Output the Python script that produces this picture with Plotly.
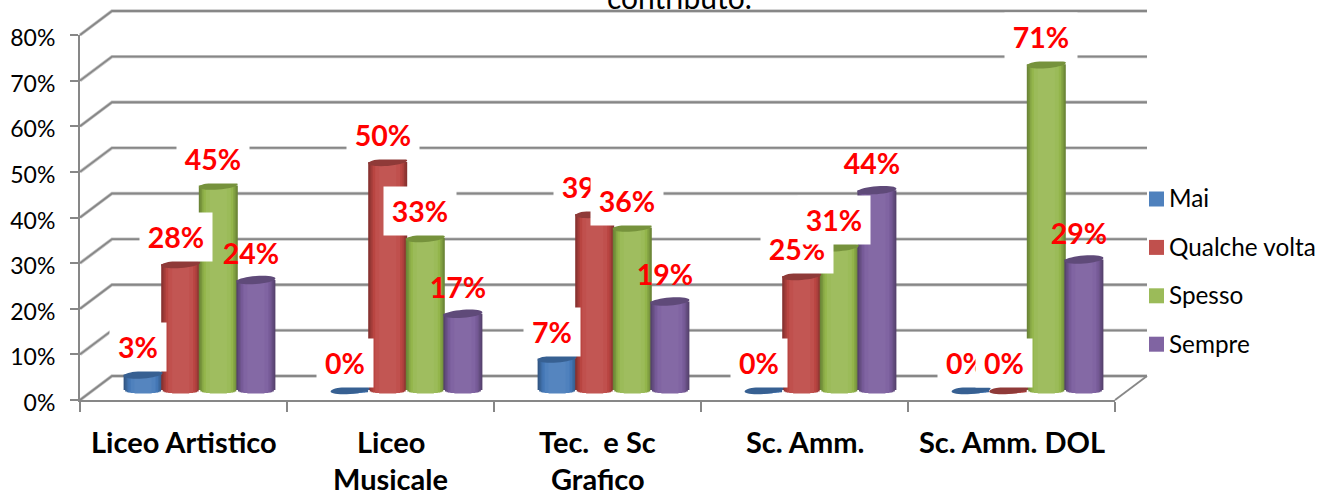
import colorsys

import numpy as np
import plotly.graph_objects as go

CATEGORIES = [['Liceo Artistico'], ['Liceo', 'Musicale'], ['Tec.\u00a0\u00a0e Sc', 'Grafico'], ['Sc. Amm.'], ['Sc. Amm. DOL']]
SERIES = ['Mai', 'Qualche volta', 'Spesso', 'Sempre']
MAI = [3.4, 0, 6.9, 0, 0]
QUALCHE_VOLTA = [27.6, 50, 38.6, 25, 0]
SPESSO = [44.8, 33.3, 35.6, 31.3, 71.4]
SEMPRE = [24.1, 16.7, 19.4, 43.8, 28.6]
VALUES = [MAI, QUALCHE_VOLTA, SPESSO, SEMPRE]
Y_TICKS = [0, 10, 20, 30, 40, 50, 60, 70, 80]

COLORS = ['#4F81BD', '#C0504D', '#9BBB59', '#8064A2']
CAP_COLORS = ['#376092', '#8F3A38', '#76923C', '#5F4A79']
GRID_DARK = '#878787'
GRID_LIGHT = '#c6c6c6'
FONT = 'Lato'

W, H = 1320, 490
PX_PER_UNIT = 4.5625  # pixels per percentage point
FRONT_X0, FRONT_X1 = 80, 1115
FRONT_ZERO = 400
DEPTH_X, DEPTH_Y = 32, 24
BAR_ZERO = 390
BAR_SHIFT = 16
BAR_STEP = 37.6 / 207
BAR_WIDTH = 39 / 207
CAP_H = 4 / PX_PER_UNIT
CAP_TILT = 1.5 / PX_PER_UNIT
# (width fraction, brightness) from the cylinder edge to its centre
SHADES = [(1.0, 0.68), (0.92, 0.76), (0.84, 0.85), (0.76, 0.93), (0.64, 1.0), (0.44, 1.03)]


def px(x):
    return x / W


def py(y):
    return 1 - y / H


def shade(color, k):
    r, g, b = [int(color[i:i + 2], 16) / 255 for i in (1, 3, 5)]
    h, l, s = colorsys.rgb_to_hls(r, g, b)
    r, g, b = colorsys.hls_to_rgb(h, min(l * k, 1), s)
    return f'rgb({r * 255:.0f},{g * 255:.0f},{b * 255:.0f})'


fig = go.Figure()
shapes = []
annotations = []

# cylinders: nested bars for the shading, the narrow ones reach lower to round the foot
for s, name in enumerate(SERIES):
    centers = np.arange(len(CATEGORIES)) + (s - 1.5) * BAR_STEP
    values = np.array(VALUES[s], dtype=float)
    for frac, k in SHADES:
        base = -CAP_H * np.sqrt(1 - frac ** 2) * np.ones(len(values))
        fig.add_trace(go.Bar(
            x=centers,
            y=values - base,
            base=base,
            width=BAR_WIDTH * frac,
            marker=dict(color=shade(COLORS[s], k), line_width=0),
            name=name,
            showlegend=False,
            hoverinfo='skip',
            xaxis='x2',
            yaxis='y2'
        ))
    # top of each cylinder
    t = np.linspace(0, 2 * np.pi, 37)
    for c, v in zip(centers, values):
        xs = c + BAR_WIDTH / 2 * np.cos(t)
        ys = v + CAP_H * np.sin(t) + CAP_TILT * np.cos(t)
        path = 'M' + 'L'.join(f'{a:.4f},{b:.3f}' for a, b in zip(xs, ys)) + 'Z'
        shapes.append(dict(type='path', path=path, xref='x2', yref='y2',
                           fillcolor=CAP_COLORS[s], line_width=0))

# walls: diagonal plus back line for each level
for tick in Y_TICKS:
    yf = FRONT_ZERO - tick * PX_PER_UNIT
    yb = yf - DEPTH_Y
    xb0, xb1 = FRONT_X0 + DEPTH_X, FRONT_X1 + DEPTH_X
    path = f'M{px(FRONT_X0)},{py(yf)}L{px(xb0)},{py(yb)}L{px(xb1)},{py(yb)}'
    shapes.append(dict(type='path', path=path, xref='paper', yref='paper', layer='below',
                       line=dict(color=GRID_LIGHT, width=3.4)))
    shapes.append(dict(type='path', path=path, xref='paper', yref='paper', layer='below',
                       line=dict(color=GRID_DARK, width=1.8)))
shapes.append(dict(type='line', xref='paper', yref='paper', layer='below',
                   x0=px(FRONT_X1), y0=py(FRONT_ZERO),
                   x1=px(FRONT_X1 + DEPTH_X), y1=py(FRONT_ZERO - DEPTH_Y),
                   line=dict(color=GRID_DARK, width=1.8)))

# data labels, white box on all series but the last
for s in range(len(SERIES)):
    for i, v in enumerate(VALUES[s]):
        text = f'{v:.0f}%'
        annotations.append(dict(
            x=i + (s - 1.5) * BAR_STEP, y=v, xref='x2', yref='y2',
            text=f'<b>{text}</b>', showarrow=False,
            xshift=-5, yshift=27,
            width=56 if len(text) == 2 else 72, height=48, borderpad=0,
            align='center', valign='middle',
            bgcolor='white' if SERIES[s] != 'Sempre' else None,
            font=dict(family=FONT, size=28.5, color='#ff0000')
        ))

# category labels, the line spacing is wider than a tick label would give
for i, lines in enumerate(CATEGORIES):
    for n, line in enumerate(lines):
        annotations.append(dict(
            x=i, y=py(441 + n * 37), xref='x', yref='paper', yanchor='middle',
            text=f'<b>{line}</b>', showarrow=False,
            font=dict(family=FONT, size=29, color='black')
        ))

# legend
for s, name in enumerate(SERIES):
    yc = 199 + s * 48.4
    shapes.append(dict(type='rect', xref='paper', yref='paper',
                       x0=px(1149), x1=px(1164), y0=py(yc - 7.5), y1=py(yc + 7.5),
                       fillcolor=COLORS[s], line_width=0))
    annotations.append(dict(
        x=px(1167), y=py(yc - 1), xref='paper', yref='paper', xanchor='left', yanchor='middle',
        text=name, showarrow=False,
        font=dict(family=FONT, size=24.3, color='black')
    ))

# what is left of the clipped title
annotations.append(dict(
    x=px(679), y=py(-3), xref='paper', yref='paper', yanchor='middle',
    text='contributo.', showarrow=False,
    font=dict(family=FONT, size=30, color='black')
))

axis_line = dict(showline=True, linecolor=GRID_DARK, linewidth=2, ticks='outside',
                 tickcolor=GRID_DARK, tickwidth=2, showgrid=False, zeroline=False)
fig.update_layout(
    width=W,
    height=H,
    margin=dict(l=0, r=0, t=0, b=0, autoexpand=False),
    paper_bgcolor='white',
    plot_bgcolor='rgba(0,0,0,0)',
    barmode='overlay',
    showlegend=False,
    shapes=shapes,
    annotations=annotations,
    xaxis=dict(
        domain=[px(FRONT_X0), px(FRONT_X1)],
        range=[-0.5, len(CATEGORIES) - 0.5],
        tickvals=np.arange(len(CATEGORIES) + 1) - 0.5,
        showticklabels=False,
        ticklen=10,
        anchor='y',
        **axis_line
    ),
    yaxis=dict(
        domain=[py(FRONT_ZERO), py(FRONT_ZERO - 80 * PX_PER_UNIT)],
        range=[0, 80],
        tickvals=Y_TICKS,
        ticktext=[f'{t}%' for t in Y_TICKS],
        ticklen=8,
        ticklabelstandoff=10,
        ticklabelshift=3,
        tickfont=dict(family=FONT, size=23, color='black'),
        anchor='x',
        **axis_line
    ),
    # bars stand in the middle of the floor, so they get axes of their own
    xaxis2=dict(
        domain=[px(FRONT_X0 + BAR_SHIFT), px(FRONT_X1 + BAR_SHIFT)],
        range=[-0.5, len(CATEGORIES) - 0.5],
        visible=False,
        anchor='y2'
    ),
    yaxis2=dict(
        domain=[py(BAR_ZERO + 5 * PX_PER_UNIT), py(BAR_ZERO - 85 * PX_PER_UNIT)],
        range=[-5, 85],
        visible=False,
        anchor='x2'
    )
)

fig.write_html('out.html', config=dict(displayModeBar=False),
               post_script="document.body.style.margin='0';document.body.style.overflow='hidden';")
